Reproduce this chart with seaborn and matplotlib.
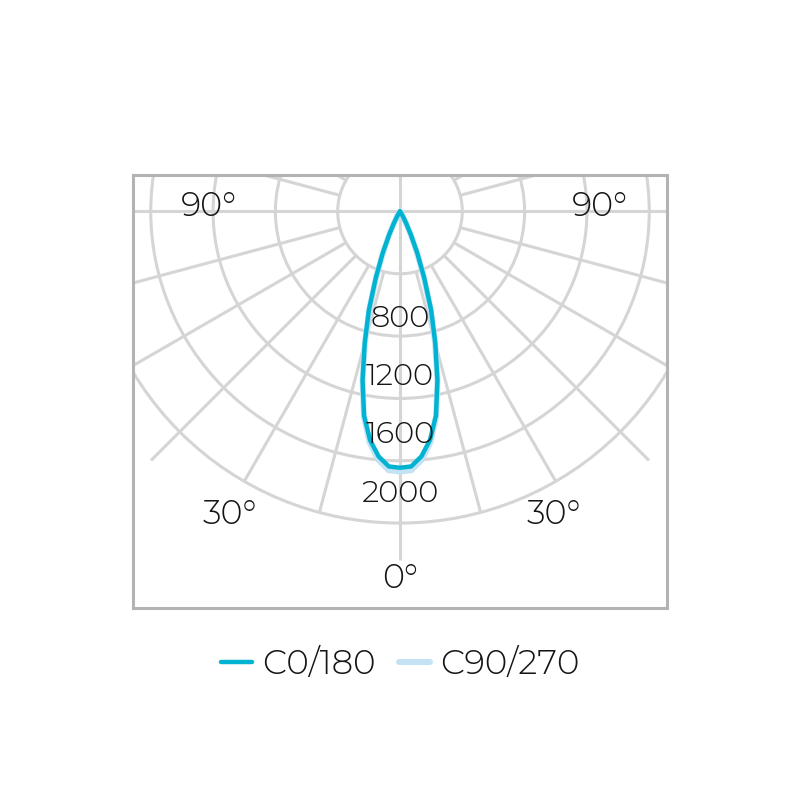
import numpy as np
import pandas as pd
import seaborn as sns
import matplotlib.pyplot as plt
from matplotlib.patches import Circle

# luminous intensity (cd) against gamma angle
gamma = [0, 2.5, 5, 7.5, 10, 12.5, 15, 17.5, 20, 22.5, 25, 27.5, 30, 32.5, 35, 40]
c0_180 = [1645, 1638, 1578, 1478, 1330, 1110, 875, 665, 455, 292, 165, 85, 40, 15, 0, 0]
c90_270 = [1670, 1662, 1600, 1495, 1335, 1110, 870, 650, 445, 285, 160, 80, 35, 12, 0, 0]

series_names = ['C0/180', 'C90/270']
series_colors = ['#00b4d1', '#c3e3f4']

ring_values = [400, 800, 1200, 1600, 2000]
ring_labels = ['800', '1200', '1600', '2000']
angle_labels = ['90°', '90°', '30°', '30°', '0°']

# layout (data units, centre of the diagram at 0,0)
ring_label_y = [-741, -1114, -1486, -1865]
angle_label_xy = [(-1225, -32), (1282, -32), (-1093, -2003), (990, -2003), (0, -2418)]


def to_xy(vals, name):
    g = np.radians(np.array(gamma))
    r = np.array(vals, dtype=float)
    # C180 half on the left, C0 half on the right
    x = np.concatenate([-(r * np.sin(g))[::-1], (r * np.sin(g))[1:]])
    y = np.concatenate([-(r * np.cos(g))[::-1], -(r * np.cos(g))[1:]])
    return pd.DataFrame({'x': x, 'y': y, 'plane': name})


sns.set_theme(style='white')
plt.rcParams['font.family'] = ['Montserrat Alternates', 'DejaVu Sans']
plt.rcParams['font.weight'] = 300

fig = plt.figure(figsize=(8.01, 8), dpi=100)
ax = fig.add_axes([133 / 801, 192 / 800, 534 / 801, 433 / 800])

grid_c = '#d5d5d5'
grid_lw = 2.2
for rv in ring_values:
    ax.add_patch(Circle((0, 0), rv, fill=False, color=grid_c, lw=grid_lw, zorder=1))

for a in range(0, 360, 15):
    t = np.radians(a)
    if a % 90 == 0:
        r0, r1 = 0, 2240
    elif a % 45 == 0:
        r0, r1 = 400, 2260
    else:
        r0, r1 = 400, 2000
    ax.plot([r0 * np.sin(t), r1 * np.sin(t)], [-r0 * np.cos(t), -r1 * np.cos(t)],
            color=grid_c, lw=grid_lw, zorder=1, solid_capstyle='butt')

df_c90 = to_xy(c90_270, series_names[1])
df_c0 = to_xy(c0_180, series_names[0])
sns.lineplot(data=df_c90, x='x', y='y', sort=False, estimator=None,
             color=series_colors[1], linewidth=4.3, label=series_names[1], ax=ax, zorder=3)
sns.lineplot(data=df_c0, x='x', y='y', sort=False, estimator=None,
             color=series_colors[0], linewidth=3.2, label=series_names[0], ax=ax, zorder=4)

for lab, yy in zip(ring_labels, ring_label_y):
    ax.text(0, yy, lab, ha='center', va='baseline', fontsize=22, color='#151515',
            fontweight=300, zorder=5)
for lab, (xx, yy) in zip(angle_labels, angle_label_xy):
    ax.text(xx, yy, lab, ha='center', va='baseline', fontsize=24, color='#151515',
            fontweight=300, zorder=5)

ax.set_xlim(-1714, 1714)
ax.set_ylim(-2545, 234)
ax.set_xticks([])
ax.set_yticks([])
ax.set_xlabel('')
ax.set_ylabel('')
for sp in ax.spines.values():
    sp.set_visible(True)
    sp.set_color('#b3b3b3')
    sp.set_linewidth(2.2)

handles, labels = ax.get_legend_handles_labels()
ax.get_legend().remove()
order = [labels.index(n) for n in series_names]
leg = fig.legend([handles[i] for i in order], [labels[i] for i in order],
                 loc='center', bbox_to_anchor=(0.5, 1 - 665 / 800), ncol=2,
                 frameon=False, fontsize=24.5, handlelength=0.9,
                 handletextpad=0.3, columnspacing=0.7)
for t in leg.get_texts():
    t.set_fontweight(300)
    t.set_color('#151515')

fig.savefig('out.png', dpi=100)
